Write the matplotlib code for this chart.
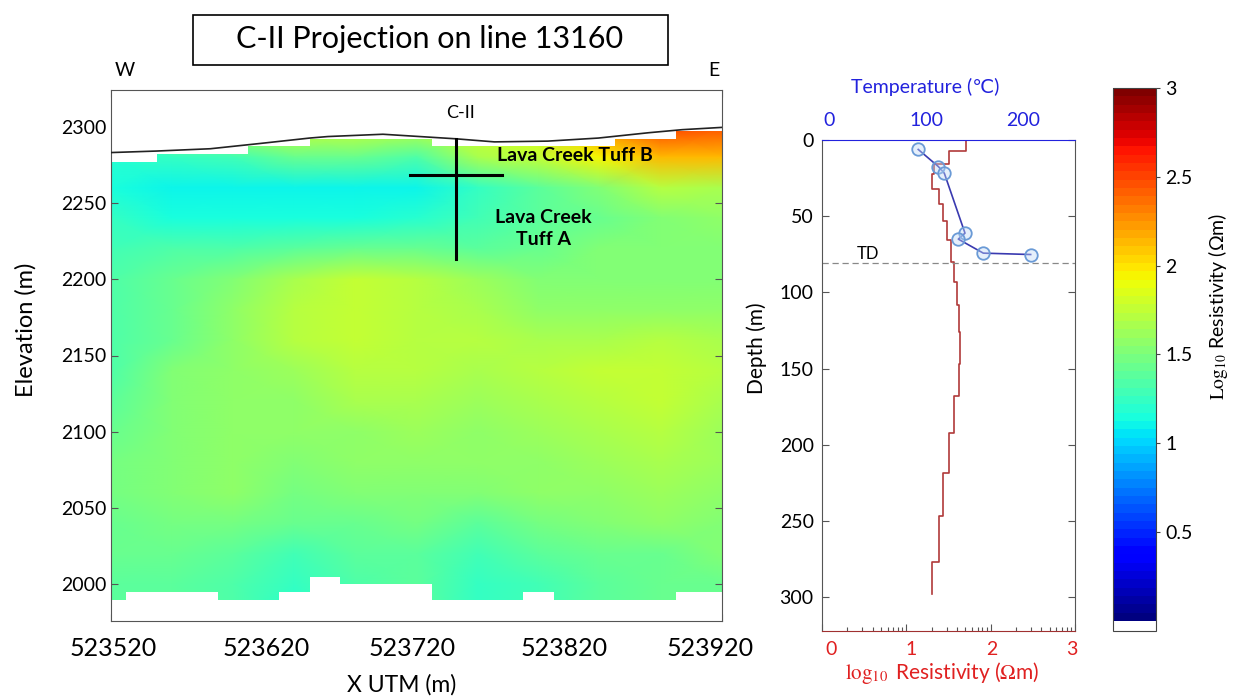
import numpy as np
import matplotlib
matplotlib.use('Agg')
import matplotlib.pyplot as plt
from matplotlib.patches import Rectangle
from matplotlib.transforms import blended_transform_factory, offset_copy

plt.rcParams['font.family'] = ['Lato', 'DejaVu Sans']

# resistivity section, values at grid nodes (log10 ohm-m)
x_nodes = [523520, 523560, 523600, 523640, 523680, 523720, 523760, 523800, 523840, 523880, 523920]
z_nodes = [2300, 2280, 2260, 2240, 2220, 2200, 2180, 2160, 2140, 2120, 2100, 2080, 2060, 2040, 2020, 2000, 1980]
res_grid = [
    [1.35, 1.55, 1.75, 1.80, 1.80, 1.75, 1.80, 1.85, 2.25, 2.50, 2.45],
    [1.20, 1.25, 1.30, 1.45, 1.45, 1.35, 1.65, 1.75, 1.95, 2.15, 2.15],
    [1.15, 1.10, 1.10, 1.10, 1.10, 1.10, 1.22, 1.40, 1.50, 1.70, 1.65],
    [1.22, 1.16, 1.14, 1.14, 1.15, 1.18, 1.30, 1.40, 1.45, 1.50, 1.55],
    [1.30, 1.32, 1.35, 1.40, 1.45, 1.45, 1.40, 1.45, 1.50, 1.50, 1.50],
    [1.35, 1.45, 1.50, 1.65, 1.75, 1.72, 1.60, 1.50, 1.50, 1.50, 1.50],
    [1.35, 1.45, 1.55, 1.70, 1.75, 1.72, 1.65, 1.55, 1.55, 1.55, 1.55],
    [1.35, 1.45, 1.55, 1.70, 1.75, 1.72, 1.70, 1.65, 1.65, 1.70, 1.68],
    [1.35, 1.50, 1.55, 1.60, 1.70, 1.72, 1.65, 1.72, 1.75, 1.77, 1.70],
    [1.40, 1.50, 1.55, 1.58, 1.65, 1.68, 1.60, 1.68, 1.72, 1.76, 1.68],
    [1.45, 1.50, 1.58, 1.55, 1.58, 1.60, 1.58, 1.62, 1.65, 1.72, 1.62],
    [1.48, 1.52, 1.58, 1.52, 1.55, 1.55, 1.55, 1.58, 1.62, 1.68, 1.60],
    [1.48, 1.50, 1.55, 1.48, 1.52, 1.52, 1.50, 1.55, 1.58, 1.62, 1.55],
    [1.45, 1.48, 1.48, 1.42, 1.45, 1.48, 1.40, 1.48, 1.50, 1.55, 1.52],
    [1.42, 1.42, 1.40, 1.30, 1.38, 1.40, 1.30, 1.38, 1.42, 1.45, 1.50],
    [1.40, 1.40, 1.35, 1.22, 1.35, 1.38, 1.25, 1.30, 1.38, 1.42, 1.45],
    [1.40, 1.40, 1.35, 1.20, 1.35, 1.38, 1.25, 1.30, 1.38, 1.42, 1.45],
]

# top and bottom of the model cells (steps)
top_x = [523520, 523550, 523610, 523650, 523730, 523850, 523890, 523920]
top_z = [2277, 2282, 2287, 2292, 2287, 2292, 2297]
bot_x = [523520, 523530, 523590, 523630, 523650, 523670, 523730, 523790, 523810, 523890, 523920]
bot_z = [1990, 1995, 1990, 1995, 2005, 2000, 1990, 1995, 1990, 1995]

# ground surface
topo_x = [523520, 523550, 523585, 523618, 523650, 523662, 523698, 523722, 523746,
          523771, 523806, 523839, 523872, 523894, 523920]
topo_z = [2283, 2284, 2285.5, 2289, 2292.5, 2293.5, 2295, 2293.5, 2292,
          2290, 2290.5, 2292.5, 2296, 2298, 2299.5]

# C-II well projection
well_x = 523746
well_z = [2292, 2213]
cross_x = [523716, 523776]
cross_z = 2268.5

xtick_vals = [523520, 523620, 523720, 523820, 523920]
xtick_shift = [2, 2, -4, -5, -12]
res_ticks = [0, 1, 2, 3]
res_shift = [9, 5, 1, -3]

# C-II resistivity log: layer boundaries (m) and log10 resistivity
layer_depth = [0, 6.9, 15.6, 22.2, 32, 41.9, 52.8, 65.9, 80.1, 93.2, 108.5, 126,
               146.8, 168.2, 192, 218.2, 246.4, 276.8, 298]
layer_res = [1.71, 1.50, 1.33, 1.30, 1.39, 1.43, 1.48, 1.53, 1.57, 1.60, 1.62,
             1.64, 1.62, 1.56, 1.50, 1.44, 1.39, 1.30]

# C-II temperature
temp_c = [92, 112.7, 118.9, 140.2, 133.3, 159.1, 207.9]
temp_depth = [6.2, 17.4, 21.8, 61.1, 65.0, 74.2, 75.1]
td_depth = 80.5

W, H = 1234, 698


def fx(px):
    return px / W


def fy(py):
    return 1 - py / H


fig = plt.figure(figsize=(W / 100, H / 100), dpi=100)

cmap = plt.get_cmap('jet', 64).with_extremes(under='white')

# ---- section ----
ax = fig.add_axes([fx(111), fy(621), (722 - 111) / W, (621 - 90) / H])
mesh = ax.pcolormesh(x_nodes, z_nodes, np.array(res_grid), shading='gouraud',
                     cmap=cmap, vmin=0, vmax=3, zorder=1)
ax.fill_between(top_x, top_z + top_z[-1:], 2400, step='post', color='white', lw=0, zorder=2)
ax.fill_between(bot_x, bot_z + bot_z[-1:], 1900, step='post', color='white', lw=0, zorder=2)
ax.plot(topo_x, topo_z, color='#222222', lw=1.2, zorder=3)
ax.plot([well_x, well_x], well_z, color='black', lw=2.2, zorder=3)
ax.plot(cross_x, [cross_z, cross_z], color='black', lw=2.2, zorder=3)

ax.set_xlim(523520, 523920)
ax.set_ylim(1976, 2324)
ax.set_yticks(np.arange(2000, 2301, 50))
ax.set_xticks(np.arange(523520, 523921, 50))
ax.set_xticklabels([])
ax.tick_params(direction='in', top=True, right=True, length=5, width=0.8,
               color='#555555', labelsize=14)
for s in ax.spines.values():
    s.set_color('#555555')

tr = blended_transform_factory(ax.transData, ax.transAxes)
for v, dx in zip(xtick_vals, xtick_shift):
    t = offset_copy(tr, fig=fig, x=dx, y=0, units='dots')
    ax.text(v, -0.03, str(v), transform=t, ha='center', va='top', fontsize=18)

ax.text(523749, 2309, 'C-II', ha='center', va='center', fontsize=13)
ax.text(523773, 2281, 'Lava Creek Tuff B', ha='left', va='center', fontsize=14, fontweight='bold')
ax.text(523803, 2233, 'Lava Creek\nTuff A', ha='center', va='center', fontsize=14,
        fontweight='bold', linespacing=1.35)

fig.text(fx(26), fy(330), 'Elevation (m)', rotation=90, ha='center', va='center', fontsize=17)
fig.text(fx(402), fy(685), 'X UTM (m)', ha='center', va='center', fontsize=16.5)
fig.text(fx(125), fy(70), 'W', ha='center', va='center', fontsize=14)
fig.text(fx(714), fy(70), 'E', ha='center', va='center', fontsize=14)

fig.patches.append(Rectangle((fx(193), fy(65)), 475 / W, 50 / H, transform=fig.transFigure,
                             fill=False, ec='black', lw=1.2))
fig.text(fx(430), fy(39), 'C-II Projection on line 13160', ha='center', va='center', fontsize=22)

# ---- well log ----
red = '#e02020'
blue = '#2222dd'
ax2 = fig.add_axes([fx(822), fy(631), (1075 - 822) / W, (631 - 140) / H])
sx = np.repeat(layer_res, 2)
sy = np.column_stack([layer_depth[:-1], layer_depth[1:]]).ravel()
ax2.plot(sx, sy, color='#b03a3a', lw=1.2)
ax2.axhline(td_depth, color='#888888', lw=0.9, ls=(0, (5, 3)))
ax2.text(0.55, td_depth - 6, 'TD', ha='center', va='center', fontsize=12)
ax2.set_xlim(0, 3)
ax2.set_ylim(322, 0)
ax2.set_xticks(res_ticks)
ax2.set_xticklabels([])
minor = [n + np.log10(k) for n in range(3) for k in range(2, 10)]
ax2.set_xticks(minor, minor=True)
ax2.set_yticks(np.arange(0, 301, 50))
ax2.tick_params(axis='both', which='both', direction='in', top=True, right=True,
                color='#555555', width=0.8)
ax2.tick_params(which='major', length=5)
ax2.tick_params(which='minor', length=3)
ax2.tick_params(axis='y', labelsize=14, pad=6)
ax2.spines['bottom'].set_color('#a03030')
ax2.spines['left'].set_color('#555555')
ax2.spines['right'].set_color('#555555')
ax2.spines['top'].set_color(blue)

tr2 = blended_transform_factory(ax2.transData, ax2.transAxes)
for v, dx in zip(res_ticks, res_shift):
    t = offset_copy(tr2, fig=fig, x=dx, y=0, units='dots')
    ax2.text(v, -0.02, str(v), transform=t, ha='center', va='top', fontsize=14, color=red)

ax3 = ax2.twiny()
ax3.plot(temp_c, temp_depth, color='#3a3ab0', lw=1.2, marker='o', ms=9,
         mfc=(0.75, 0.85, 0.97, 0.4), mec='#6a9ad6', mew=1.3)
ax3.set_xlim(-7.2, 253.6)
ax3.set_xticks([0, 100, 200])
ax3.tick_params(axis='x', length=0, labelcolor=blue, labelsize=14, pad=8)
for s in ax3.spines.values():
    s.set_visible(False)

fig.text(fx(925), fy(87), 'Temperature (\u2103)', color=blue, ha='center', va='center', fontsize=14)
fig.text(fx(942), fy(673), r'$\log_{10}$ Resistivity ($\Omega$m)', color=red, ha='center',
         va='center', fontsize=15, math_fontfamily='stix')
fig.text(fx(757), fy(348), 'Depth (m)', rotation=90, ha='center', va='center', fontsize=15)

# ---- colour bar ----
cax = fig.add_axes([fx(1113), fy(631), 43 / W, (631 - 88) / H])
cb = fig.colorbar(mesh, cax=cax, extend='min', extendrect=True, extendfrac=0.019,
                  ticks=[0.5, 1, 1.5, 2, 2.5, 3], format='%g')
cb.outline.set_edgecolor('#444444')
cax.tick_params(labelsize=14, length=3, color='#444444')
cax.text(2.45, 0.59, r'$\mathrm{Log}_{10}$ Resistivity (Ωm)', rotation=90, ha='center',
         va='center', fontsize=14, transform=cax.transAxes, math_fontfamily='stix')

fig.savefig('out.png', dpi=100)
